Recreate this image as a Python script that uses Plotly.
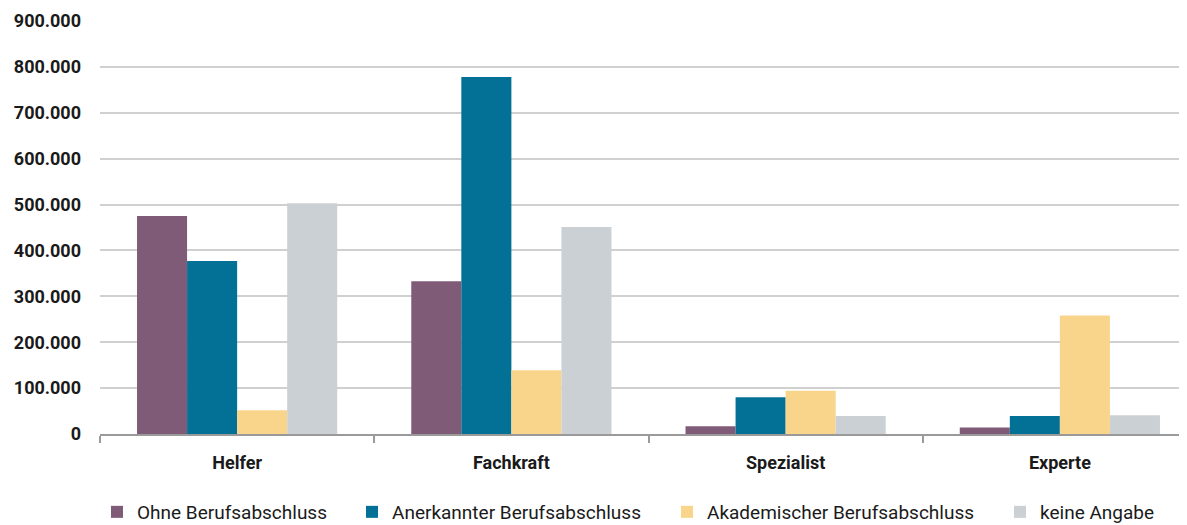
import plotly.graph_objects as go

# Anforderungsniveau (x) und Beschäftigte nach Berufsabschluss
categories = ["Helfer", "Fachkraft", "Spezialist", "Experte"]
series_names = ["Ohne Berufsabschluss", "Anerkannter Berufsabschluss",
                "Akademischer Berufsabschluss", "keine Angabe"]
ohne = [475000, 333000, 17000, 14000]
anerkannt = [377000, 778000, 80000, 39000]
akademisch = [52000, 139000, 94000, 258000]
keine_angabe = [503000, 451000, 39000, 41000]
colors = ["#7f5b78", "#037096", "#f8d58b", "#cbd0d4"]

# one legend per entry so the spacing can follow the original
legend_ids = ["legend", "legend2", "legend3", "legend4"]
legend_x = [97, 352, 667, 1000]  # page px of the legend boxes

W, H = 1197, 525  # plot area runs a little past the window on the right, like the original

fig = go.Figure()
for name, vals, col, lid in zip(series_names, [ohne, anerkannt, akademisch, keine_angabe],
                                colors, legend_ids):
    fig.add_trace(go.Bar(x=categories, y=vals, name=name, legend=lid, showlegend=True,
                         marker=dict(color=col, line=dict(width=0))))

# the page has an 8px body margin, so offsets are shifted by 8px
legends = {}
for lid, px in zip(legend_ids, legend_x):
    legends[lid] = dict(orientation="h", xref="container", x=(px - 8) / W,
                        xanchor="left", yref="container", y=1 - 504 / H,
                        yanchor="middle", font=dict(size=19), itemwidth=30,
                        itemclick=False, bgcolor="rgba(0,0,0,0)")

fig.update_layout(
    width=W, height=H,
    showlegend=True,
    margin=dict(l=92, r=8, t=13, b=99, autoexpand=False),
    paper_bgcolor="white", plot_bgcolor="white",
    barmode="group", bargap=0.27, bargroupgap=0,
    separators=",.",
    font=dict(family="Roboto", color="#1a1a1a", size=16),
    **legends,
)
fig.update_yaxes(range=[0, 900000], dtick=100000, tickformat=",d",
                 showgrid=True, gridcolor="#d0d0d0", gridwidth=1.5,
                 zeroline=False, showline=False, ticks="",
                 ticklabelstandoff=18,
                 tickfont=dict(size=18, family="Roboto", weight="bold"))
fig.update_xaxes(showline=True, linecolor="#9a9a9a", linewidth=2,
                 ticks="outside", tickson="boundaries", ticklen=7,
                 tickcolor="#9a9a9a", tickwidth=1.5,
                 ticklabelstandoff=11,
                 tickfont=dict(size=18, family="Roboto", weight="bold"))

# no scrollbars for the part that runs past the window
fig.write_html("out.html", post_script="document.body.style.overflow='hidden';")
